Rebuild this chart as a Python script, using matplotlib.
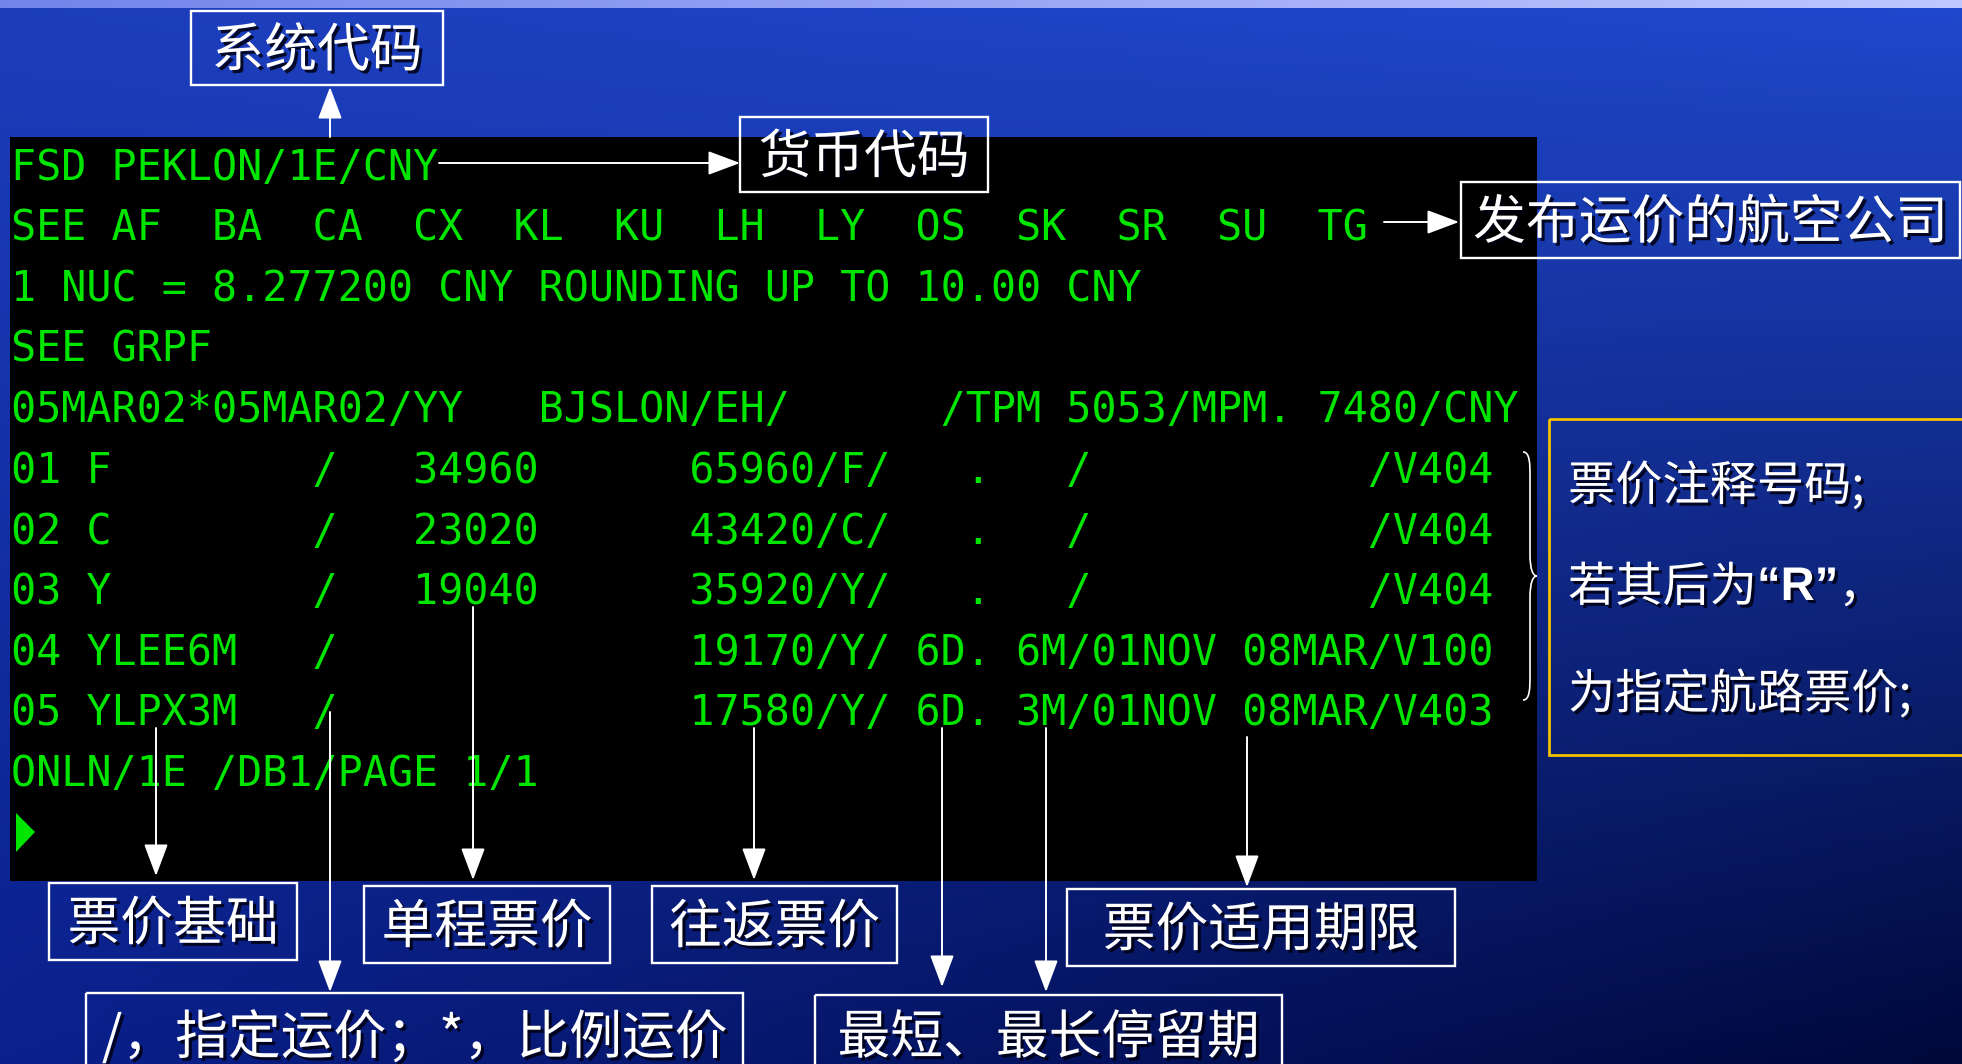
import numpy as np
import matplotlib
matplotlib.use("Agg")
import matplotlib.pyplot as plt
from matplotlib.patches import Rectangle, Polygon, PathPatch
from matplotlib.path import Path
import matplotlib.patheffects as pe

plt.rcParams['font.family'] = ['Noto Sans CJK SC', 'DejaVu Sans']

# ------------------------------------------------------------------------
# DATA: terminal screen contents
# ------------------------------------------------------------------------
HEADER_LINES = [
    "FSD PEKLON/1E/CNY",
    "SEE AF  BA  CA  CX  KL  KU  LH  LY  OS  SK  SR  SU  TG",
    "1 NUC = 8.277200 CNY ROUNDING UP TO 10.00 CNY",
    "SEE GRPF",
    "05MAR02*05MAR02/YY   BJSLON/EH/      /TPM 5053/MPM. 7480/CNY",
]
FARE_NO    = ["01", "02", "03", "04", "05"]
FARE_BASIS = ["F", "C", "Y", "YLEE6M", "YLPX3M"]
OW_FARE    = ["34960", "23020", "19040", "", ""]
RT_FARE    = ["65960", "43420", "35920", "19170", "17580"]
FARE_CLASS = ["F", "C", "Y", "Y", "Y"]
MIN_STAY   = [".", ".", ".", "6D.", "6D."]
MAX_STAY   = ["", "", "", "6M", "3M"]
FIRST_DATE = ["", "", "", "01NOV", "01NOV"]
LAST_DATE  = ["", "", "", "08MAR", "08MAR"]
RULE_NO    = ["V404", "V404", "V404", "V100", "V403"]
FOOTER_LINES = ["ONLN/1E /DB1/PAGE 1/1"]

# annotation labels
TOP_LABELS    = ["系统代码", "货币代码", "发布运价的航空公司"]
BOTTOM_LABELS = ["票价基础", "单程票价", "往返票价", "票价适用期限"]
LOWER_LABELS  = ["/，指定运价；*，比例运价", "最短、最长停留期"]
NOTE_LINES    = [["票价注释号码;"], ["若其后为", "“R”", "，"], ["为指定航路票价;"]]

# ------------------------------------------------------------------------
# LAYOUT (pixel coordinates, y downwards)
# ------------------------------------------------------------------------
W, H = 1962, 1064
GREEN = "#00e600"
ROW0, PITCH = 180, 60.6

fig = plt.figure(figsize=(W / 100, H / 100), dpi=100)
ax = fig.add_axes([0, 0, 1, 1])
ax.set_xlim(0, W)
ax.set_ylim(H, 0)
ax.axis("off")

# background gradient
tl = np.array([28, 62, 188]); tr = np.array([32, 72, 205])
bl = np.array([10, 32, 140]); br = np.array([0, 8, 58])
yy, xx = np.mgrid[0:1:200j, 0:1:360j]
img = (tl * ((1 - xx) * (1 - yy))[..., None] + tr * (xx * (1 - yy))[..., None]
       + bl * ((1 - xx) * yy)[..., None] + br * (xx * yy)[..., None]) / 255
ax.imshow(img, extent=[0, W, H, 0], aspect="auto", zorder=0)
band = np.linspace(0, 1, 200)[None, :, None] * np.array([0.75, 0.78, 1.0]) \
    + (1 - np.linspace(0, 1, 200))[None, :, None] * np.array([0.45, 0.52, 0.92])
ax.imshow(band, extent=[0, W, 8, 0], aspect="auto", zorder=0.5)

# terminal panel
ax.add_patch(Rectangle((10, 137), 1527, 744, facecolor="black", zorder=1))

fare_lines = []
for i in range(len(FARE_NO)):
    fare_lines.append(
        f"{FARE_NO[i]} {FARE_BASIS[i]:<9}/   {OW_FARE[i]:>5}      "
        f"{RT_FARE[i]}/{FARE_CLASS[i]}/ {MIN_STAY[i]:>3} {MAX_STAY[i]:>2}/"
        f"{FIRST_DATE[i]:<5} {LAST_DATE[i]:<5}/{RULE_NO[i]}")
screen = HEADER_LINES + fare_lines + FOOTER_LINES

for i, line in enumerate(screen):
    ax.text(11, ROW0 + PITCH * i, line, family="DejaVu Sans Mono",
            fontsize=30.1, color=GREEN, ha="left", va="baseline", zorder=3)

# cursor
ax.add_patch(Polygon([(16, 813), (35, 832), (16, 852)], closed=True,
                     facecolor=GREEN, edgecolor="none", zorder=3))

# ------------------------------------------------------------------------
# ANNOTATIONS
# ------------------------------------------------------------------------
shadow = [pe.SimplePatchShadow(offset=(2.2, -2.2), shadow_rgbFace="#000010",
                               alpha=0.85), pe.Normal()]


def label_box(text, x0, y0, x1, y1, ty=None, fs=38):
    ax.add_patch(Rectangle((x0, y0), x1 - x0, y1 - y0, facecolor="none",
                           edgecolor="white", lw=1.7, zorder=4))
    if ty is None:
        ty = (y0 + y1) / 2 + 3
    ax.text((x0 + x1) / 2, ty, text, color="white", fontsize=fs,
            ha="center", va="center", zorder=5, path_effects=shadow)


def arrow(x0, y0, x1, y1):
    ax.annotate("", xy=(x1, y1), xytext=(x0, y0), zorder=6,
                arrowprops=dict(arrowstyle="-|>,head_length=0.8,head_width=0.3",
                                color="white", lw=1.4, mutation_scale=25,
                                shrinkA=0, shrinkB=0))


top_boxes = [(191, 11, 443, 85), (740, 117, 988, 192), (1461, 182, 1960, 258)]
for txt, b in zip(TOP_LABELS, top_boxes):
    label_box(txt, *b)

bottom_boxes = [(49, 883, 297, 960), (364, 886, 610, 963),
                (652, 886, 897, 963), (1067, 889, 1455, 966)]
for txt, b in zip(BOTTOM_LABELS, bottom_boxes):
    label_box(txt, *b)

lower_boxes = [(86, 993, 743, 1080), (815, 995, 1282, 1080)]
for txt, b in zip(LOWER_LABELS, lower_boxes):
    label_box(txt, *b, ty=1038)

arrow(330, 137, 330, 87)
arrow(439, 163, 740, 163)
arrow(1384, 222, 1459, 222)
arrow(156, 728, 156, 876)
arrow(473, 607, 473, 880)
arrow(754, 728, 754, 880)
arrow(330, 712, 330, 992)
arrow(942, 728, 942, 987)
arrow(1046, 728, 1046, 992)
arrow(1247, 737, 1247, 887)

# brace and note box
xb, yt, yb = 1523, 452, 700
ym = (yt + yb) / 2
verts = [(xb, yt), (xb + 7, yt), (xb + 7, yt + 12), (xb + 7, yt + 25),
         (xb + 7, ym - 22),
         (xb + 7, ym - 6), (xb + 10, ym), (xb + 14, ym),
         (xb + 10, ym), (xb + 7, ym + 6), (xb + 7, ym + 22),
         (xb + 7, yb - 25),
         (xb + 7, yb - 12), (xb + 7, yb), (xb, yb)]
codes = [Path.MOVETO, Path.CURVE4, Path.CURVE4, Path.CURVE4, Path.LINETO,
         Path.CURVE4, Path.CURVE4, Path.CURVE4,
         Path.CURVE4, Path.CURVE4, Path.CURVE4, Path.LINETO,
         Path.CURVE4, Path.CURVE4, Path.CURVE4]
ax.add_patch(PathPatch(Path(verts, codes), facecolor="none",
                       edgecolor="white", lw=1.2, zorder=4))

ax.add_patch(Rectangle((1549, 419), 440, 336, facecolor="none",
                       edgecolor="#f2c200", lw=2.0, zorder=4))
for parts, y in zip(NOTE_LINES, [487, 588, 695]):
    prev = ax.text(1568, y, parts[0], color="white", fontsize=34,
                   family=["Noto Sans CJK SC", "DejaVu Sans"],
                   ha="left", va="center", zorder=5, path_effects=shadow)
    for part in parts[1:]:
        latin = "R" in part
        prev = ax.annotate(part, xy=(1, 0.5), xycoords=prev, color="white",
                           fontsize=34, ha="left", va="center", zorder=5,
                           fontweight="bold" if latin else "normal",
                           family=["Liberation Sans"] if latin
                           else ["Noto Sans CJK SC"],
                           path_effects=shadow)

fig.savefig("out.png", dpi=100)
